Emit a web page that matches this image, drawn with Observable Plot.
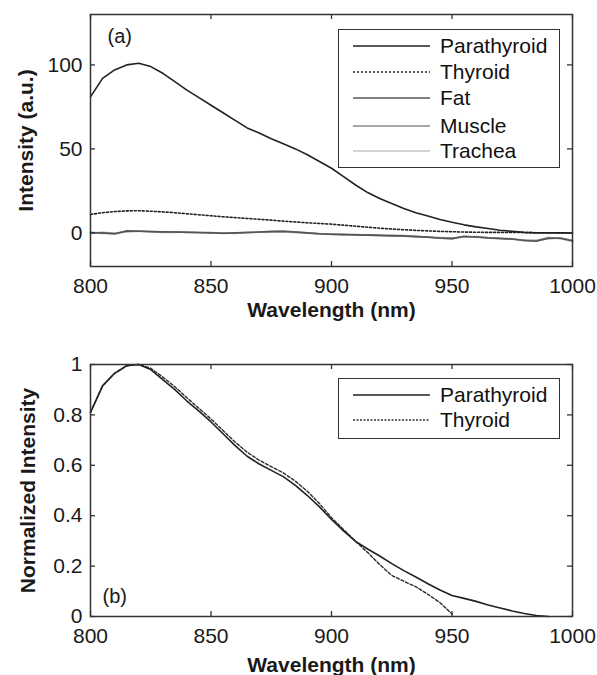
<!DOCTYPE html>
<html><head><meta charset="utf-8">
<script src="https://cdn.jsdelivr.net/npm/d3@7"></script>
<script src="https://cdn.jsdelivr.net/npm/@observablehq/plot@0.6"></script>
<style>
body{margin:0;background:#fff;font-family:"Liberation Sans",Arial,sans-serif;}
#wrap{position:relative;width:597px;height:675px;overflow:hidden;background:#fff;}
#top,#bottom{position:absolute;left:0;}
#top{top:0}#bottom{top:320px}
.legend{position:absolute;border:1.5px solid #333;background:#fff;box-sizing:border-box;}
.legend .row{position:absolute;left:0;height:26px;display:flex;align-items:center;font-size:21px;color:#111;white-space:nowrap}
.legend svg{margin-left:14px;margin-right:10px}
</style></head>
<body><div id="wrap"><div id="top"></div><div id="bottom"></div></div>
<script>
// ---- data ----
const wavelength = [800,805,810,815,820,825,830,835,840,845,850,855,860,865,870,875,880,885,890,895,900,905,910,915,920,925,930,935,940,945,950,955,960,965,970,975,980,985,990,995,1000];
const parathyroidRaw = [81,92,97,100,101,99,95,90,85,80.5,76,71.5,67,62.5,59.5,56,53,50,46.5,42.5,38.5,33.5,28.5,24,20.5,17.5,14.5,12,10,8,6.3,4.8,3.6,2.6,1.6,0.9,0.3,0,0,0,0];
const thyroidRaw = [11,12,12.7,13.1,13.2,12.9,12.5,12,11.4,10.8,10.2,9.6,9.1,8.6,8.1,7.6,7,6.5,6,5.6,5.2,4.6,4,3.4,2.8,2.3,1.9,1.5,1.2,0.9,0.7,0.5,0.4,0.3,0.3,0.2,0.2,0.1,0.1,0,0];
const fatRaw = [0,0,-0.6,1.2,1,0.8,0.6,0.5,0.3,0.2,0,-0.2,0,0.2,0.5,0.9,1,0.5,0,-0.5,-0.8,-1,-1.1,-1.3,-1.5,-1.6,-1.8,-2.2,-2.5,-3.2,-3.4,-2,-2.4,-3,-3.4,-3.6,-4.5,-5,-3,-3.2,-4.8];
const muscleRaw = [0.4,-0.3,-0.2,0.8,1.1,0.6,0.4,0.6,0.4,0.1,0.2,-0.3,-0.1,0.3,0.4,0.6,0.7,0.3,-0.2,-0.6,-0.9,-0.8,-1.3,-1.2,-1.4,-1.8,-1.6,-2,-2.6,-2.8,-3,-2.4,-2.2,-2.8,-3.2,-3.8,-4.2,-4.6,-3.4,-3,-4.4];
const tracheaRaw = [-0.3,0.5,-0.4,0.6,0.9,0.9,0.3,0.3,0.5,0.3,-0.1,0,-0.3,0.1,0.6,0.7,1.2,0.6,0.1,-0.4,-0.6,-1.1,-0.9,-1.4,-1.7,-1.5,-2,-2.4,-2.3,-3,-3.6,-2.2,-2.6,-3.2,-3,-3.4,-4.8,-4.4,-2.6,-3.6,-5];
const parathyroidNorm = [0.81,0.915,0.965,0.995,1.0,0.98,0.94,0.9,0.855,0.815,0.772,0.725,0.678,0.636,0.605,0.58,0.555,0.52,0.48,0.435,0.385,0.34,0.298,0.268,0.24,0.21,0.182,0.157,0.13,0.105,0.083,0.072,0.06,0.046,0.034,0.022,0.012,0.004,0,null,null];
const thyroidNorm = [0.81,0.915,0.965,0.995,1.0,0.985,0.95,0.912,0.868,0.826,0.784,0.738,0.692,0.652,0.62,0.595,0.57,0.537,0.497,0.448,0.392,0.345,0.298,0.254,0.206,0.163,0.14,0.118,0.088,0.055,0.01,null,null,null,null,null,null,null,null,null,null];
const xTicks = [800,850,900,950,1000];
const topYTicks = [0,50,100];
const bottomYTicks = [0,0.2,0.4,0.6,0.8,1];
const topSeries = ["Parathyroid","Thyroid","Fat","Muscle","Trachea"];
const bottomSeries = ["Parathyroid","Thyroid"];

// ---- styles ----
const FONT = '"Liberation Sans", Arial, sans-serif';
const topStyle = {
  Parathyroid: {stroke:"#222", strokeWidth:1.6},
  Thyroid: {stroke:"#222", strokeWidth:1.6, strokeDasharray:"2,2"},
  Fat: {stroke:"#555", strokeWidth:1.6},
  Muscle: {stroke:"#8a8a8a", strokeWidth:1.6},
  Trachea: {stroke:"#c4c4c4", strokeWidth:1.6}
};
const bottomStyle = {
  Parathyroid: {stroke:"#222", strokeWidth:1.6},
  Thyroid: {stroke:"#2a2a2a", strokeWidth:1.4, strokeDasharray:"3,2"}
};
const fmt = d => String(d);

const rows = (vals) => wavelength.map((w,i)=>({w, v: vals[i]})).filter(d => d.v != null);

function frameParts(W, H, mL, mR, mT, mB, yTicks) {
  const iw = W - mL - mR, ih = H - mT - mB;
  return [
    Plot.axisX(xTicks, {tickSize:0, tickPadding:12, fontSize:21, label:null, tickFormat:fmt}),
    Plot.axisY(yTicks, {tickSize:0, tickPadding:8, fontSize:21, label:null, tickFormat:fmt}),
    Plot.tickX(xTicks, {x:d=>d, insetTop: ih-5, stroke:"#333", strokeWidth:1.3}),
    Plot.tickX(xTicks, {x:d=>d, insetBottom: ih-5, stroke:"#333", strokeWidth:1.3}),
    Plot.tickY(yTicks, {y:d=>d, insetRight: iw-5, stroke:"#333", strokeWidth:1.3}),
    Plot.tickY(yTicks, {y:d=>d, insetLeft: iw-5, stroke:"#333", strokeWidth:1.3}),
    Plot.frame({stroke:"#333", strokeWidth:1.5})
  ];
}

// ---- top panel ----
const topData = {Parathyroid: parathyroidRaw, Thyroid: thyroidRaw, Fat: fatRaw, Muscle: muscleRaw, Trachea: tracheaRaw};
const topPlot = Plot.plot({
  width:597, height:320, marginLeft:90, marginRight:25, marginTop:14, marginBottom:54,
  style:{fontFamily:FONT, fontSize:"21px", color:"#1a1a1a", background:"white", overflow:"visible"},
  x:{domain:[800,1000], label:null},
  y:{domain:[-20,130], label:null},
  marks:[
    ...["Trachea","Muscle","Fat","Thyroid","Parathyroid"].map(s =>
      Plot.line(rows(topData[s]), {x:"w", y:"v", ...topStyle[s]})),
    ...frameParts(597,320,90,25,14,54,topYTicks),
    Plot.text(["Wavelength (nm)"], {frameAnchor:"bottom", dy:44, lineAnchor:"middle", textAnchor:"middle", fontWeight:"bold", fontSize:21}),
    Plot.text(["Intensity (a.u.)"], {frameAnchor:"left", dx:-64, rotate:-90, textAnchor:"middle", lineAnchor:"middle", fontWeight:"bold", fontSize:21}),
    Plot.text(["(a)"], {frameAnchor:"top-left", dx:17, dy:22, textAnchor:"start", lineAnchor:"middle", fontSize:20})
  ]
});
document.getElementById("top").append(topPlot);

// ---- bottom panel ----
const bottomData = {Parathyroid: parathyroidNorm, Thyroid: thyroidNorm};
const bottomPlot = Plot.plot({
  width:597, height:355, marginLeft:90, marginRight:25, marginTop:44, marginBottom:59,
  style:{fontFamily:FONT, fontSize:"21px", color:"#1a1a1a", background:"transparent", overflow:"visible"},
  x:{domain:[800,1000], label:null},
  y:{domain:[0,1], label:null},
  marks:[
    ...["Thyroid","Parathyroid"].map(s =>
      Plot.line(rows(bottomData[s]), {x:"w", y:"v", ...bottomStyle[s]})),
    ...frameParts(597,355,90,25,44,59,bottomYTicks),
    Plot.text(["Wavelength (nm)"], {frameAnchor:"bottom", dy:49, lineAnchor:"middle", textAnchor:"middle", fontWeight:"bold", fontSize:21}),
    Plot.text(["Normalized Intensity"], {frameAnchor:"left", dx:-62, rotate:-90, textAnchor:"middle", lineAnchor:"middle", fontWeight:"bold", fontSize:21}),
    Plot.text(["(b)"], {frameAnchor:"bottom-left", dx:12, dy:-20, textAnchor:"start", lineAnchor:"middle", fontSize:20})
  ]
});
document.getElementById("bottom").append(bottomPlot);

// ---- legends (HTML) ----
function legend(names, styles, box, rowCenters) {
  const div = document.createElement("div");
  div.className = "legend";
  Object.assign(div.style, {left: box.left+"px", top: box.top+"px", width: box.width+"px", height: box.height+"px"});
  names.forEach((n,i) => {
    const r = document.createElement("div");
    r.className = "row";
    r.style.top = (rowCenters[i]-13)+"px";
    const st = styles[n];
    r.innerHTML = `<svg width="77" height="6"><line x1="0" x2="77" y1="3" y2="3" stroke="${st.stroke}" stroke-width="${st.strokeWidth}" ${st.strokeDasharray?`stroke-dasharray="${st.strokeDasharray}"`:""}/></svg><span>${n}</span>`;
    div.append(r);
  });
  document.getElementById("wrap").append(div);
}
legend(topSeries, topStyle, {left:338, top:29, width:222, height:139}, [16,42,68,96,121]);
legend(bottomSeries, {Parathyroid:{stroke:"#222",strokeWidth:1.6}, Thyroid:{stroke:"#333",strokeWidth:1.3,strokeDasharray:"2,1.5"}}, {left:338, top:378, width:222, height:61}, [16,41]);
</script>
</body></html>
